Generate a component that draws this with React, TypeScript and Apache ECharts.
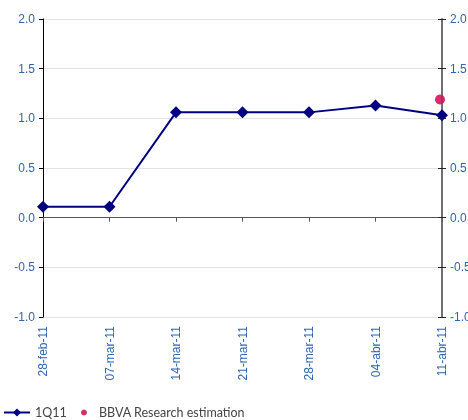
import React, { useEffect, useRef } from "react";
import * as echarts from "echarts";

const categories = ["28-feb-11", "07-mar-11", "14-mar-11", "21-mar-11", "28-mar-11", "04-abr-11", "11-abr-11"];
const q111Values = [0.11, 0.11, 1.06, 1.06, 1.06, 1.13, 1.03];
const estimationValues = [null, null, null, null, null, null, 1.19];
const seriesNames = ["1Q11", "BBVA Research estimation"];

const blue = "#2f64b1";

export default function App() {
  const ref = useRef<HTMLDivElement>(null);
  useEffect(() => {
    if (!ref.current) return;
    const chart = echarts.init(ref.current, null, { renderer: "svg" });
    const yCommon = {
      type: "value",
      min: -1,
      max: 2,
      interval: 0.5,
      axisLabel: {
        color: blue,
        fontSize: 12,
        fontFamily: "Liberation Sans",
        margin: 8,
        formatter: (v: number) => v.toFixed(1),
      },
    };
    const legendText = { color: "#444", fontSize: 12.5, fontFamily: "Lato" };
    chart.setOption({
      animation: false,
      grid: { left: 43, right: 26, top: 19, bottom: 103, outerBoundsMode: "none", containLabel: false },
      legend: [
        {
          left: 3,
          bottom: 1,
          padding: 0,
          itemWidth: 26,
          itemHeight: 10,
          textStyle: legendText,
          data: [{ name: seriesNames[0] }],
        },
        {
          left: 81,
          bottom: 1,
          padding: 0,
          itemWidth: 20,
          itemHeight: 6,
          textStyle: legendText,
          data: [{ name: seriesNames[1], icon: "circle" }],
        },
      ],
      xAxis: [
        {
          type: "category",
          data: categories,
          boundaryGap: false,
          axisLine: { onZero: true, lineStyle: { color: "#555", width: 1 } },
          axisTick: { show: true, interval: 0, length: 4, lineStyle: { color: "#555" } },
          axisLabel: { show: false },
          splitLine: { show: false },
        },
        {
          type: "category",
          data: categories,
          boundaryGap: false,
          position: "bottom",
          axisLine: { show: false, onZero: false },
          axisTick: { show: false },
          axisLabel: {
            interval: 0,
            rotate: 90,
            margin: 9,
            color: blue,
            fontSize: 12,
            fontFamily: "Liberation Sans",
          },
        },
      ],
      yAxis: [
        {
          ...yCommon,
          position: "left",
          axisLine: { show: true, lineStyle: { color: "#000", width: 1 } },
          axisTick: { show: true, length: 4, lineStyle: { color: "#000" } },
          splitLine: { show: true, lineStyle: { color: "#e3e3e3", width: 1 } },
        },
        {
          ...yCommon,
          position: "right",
          axisLabel: { ...yCommon.axisLabel, margin: 8 },
          axisLine: { show: true, lineStyle: { color: "#707070", width: 2 } },
          axisTick: { show: true, length: 4, lineStyle: { color: "#222" } },
          splitLine: { show: false },
        },
        {
          ...yCommon,
          position: "right",
          axisLabel: { show: false },
          axisLine: { show: false },
          axisTick: { show: true, inside: true, length: 4, lineStyle: { color: "#222" } },
          splitLine: { show: false },
        },
      ],
      series: [
        {
          name: seriesNames[0],
          type: "line",
          data: q111Values,
          xAxisIndex: 0,
          yAxisIndex: 0,
          symbol: "diamond",
          symbolSize: 12,
          lineStyle: { color: "#000080", width: 2 },
          itemStyle: { color: "#000080" },
          z: 3,
        },
        {
          name: seriesNames[1],
          type: "scatter",
          data: estimationValues,
          xAxisIndex: 0,
          yAxisIndex: 0,
          symbol: "circle",
          symbolSize: 10,
          symbolOffset: [-2, 0],
          itemStyle: { color: "#d2175c", opacity: 0.9 },
          z: 4,
        },
      ],
    });
    return () => chart.dispose();
  }, []);
  return (
    <div
      ref={ref}
      style={{ position: "fixed", left: 0, top: 0, width: 468, height: 420 }}
    />
  );
}
